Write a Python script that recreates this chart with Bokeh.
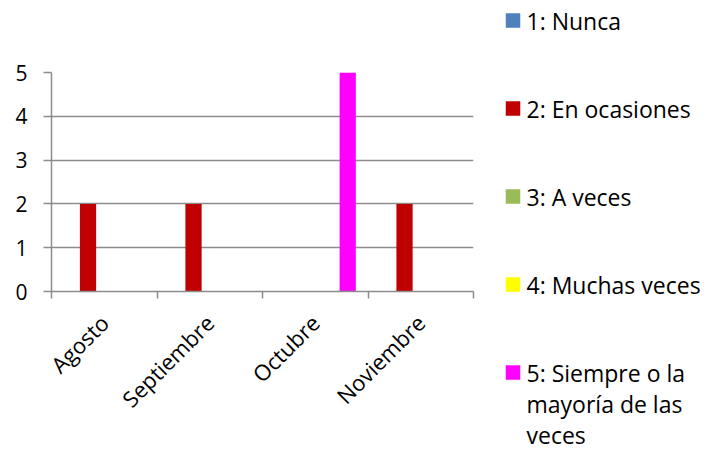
import math
from bokeh.plotting import figure
from bokeh.layouts import row
from bokeh.models import FixedTicker, ColumnDataSource, Range1d
from bokeh.embed import file_html
from bokeh.resources import INLINE

categories = ["Agosto", "Septiembre", "Octubre", "Noviembre"]
series_names = ["1: Nunca", "2: En ocasiones", "3: A veces", "4: Muchas veces",
                "5: Siempre o la\nmayoría de las\nveces"]
series_colors = ["#4F81BD", "#C00000", "#9BBB59", "#FFFF00", "#FF00FF"]
nunca = [0, 0, 0, 0]
en_ocasiones = [2, 2, 0, 2]
a_veces = [0, 0, 0, 0]
muchas_veces = [0, 0, 0, 0]
siempre = [0, 0, 5, 0]
series_values = [nunca, en_ocasiones, a_veces, muchas_veces, siempre]
y_ticks = [0, 1, 2, 3, 4, 5]

FONT = "Open Sans"
GRAY = "#8c8c8c"

n_series = len(series_values)
bar_w = 1.0 / (n_series + 1.5)  # Excel gap width 150%

# ---------------- chart ----------------
p = figure(width=478, height=449, x_range=(0, len(categories)), y_range=(0, 5),
           output_backend="svg", toolbar_location=None,
           min_border_left=51, min_border_right=5, min_border_top=72, min_border_bottom=158)
p.frame_align = False
p.outline_line_color = None
p.background_fill_color = "white"
p.border_fill_color = "white"

for j, (vals, col) in enumerate(zip(series_values, series_colors)):
    xs = [i + bar_w * (j + 1.25) for i in range(len(categories))]
    src = ColumnDataSource(dict(x=xs, top=vals))
    p.vbar(x="x", top="top", bottom=0, width=bar_w, source=src,
           fill_color=col, line_color=None)

# y axis
p.yaxis.ticker = FixedTicker(ticks=y_ticks)
p.yaxis.major_tick_out = 8
p.yaxis.major_tick_in = 0
p.yaxis.minor_tick_out = 0
p.yaxis.minor_tick_in = 0
p.yaxis.axis_line_color = GRAY
p.yaxis.axis_line_width = 1.5
p.yaxis.major_tick_line_color = GRAY
p.yaxis.major_tick_line_width = 1.5
p.yaxis.major_label_text_font = FONT
p.yaxis.major_label_text_font_size = "21px"
p.yaxis.major_label_text_color = "black"
p.yaxis.major_label_standoff = 16

# x axis
centers = [i + 0.5 for i in range(len(categories))]
bounds = [i for i in range(len(categories) + 1)]
p.xaxis.ticker = FixedTicker(ticks=centers, minor_ticks=bounds)
p.xaxis.major_label_overrides = {c: lab for c, lab in zip(centers, categories)}
p.xaxis.major_tick_out = 0
p.xaxis.major_tick_in = 0
p.xaxis.minor_tick_out = 7
p.xaxis.minor_tick_in = 0
p.xaxis.minor_tick_line_color = GRAY
p.xaxis.minor_tick_line_width = 1.5
p.xaxis.axis_line_color = GRAY
p.xaxis.axis_line_width = 1.5
p.xaxis.major_label_orientation = math.pi / 4
p.xaxis.major_label_text_font = FONT
p.xaxis.major_label_text_font_size = "22px"
p.xaxis.major_label_text_color = "black"
p.xaxis.major_label_standoff = 20

p.xgrid.visible = False
p.ygrid.ticker = FixedTicker(ticks=y_ticks)
p.ygrid.grid_line_color = GRAY
p.ygrid.grid_line_width = 1.5

# ---------------- legend panel ----------------
LW, LH = 244, 449
lf = figure(width=LW, height=LH, x_range=Range1d(0, LW), y_range=Range1d(LH, 0),
            output_backend="svg", toolbar_location=None,
            x_axis_type=None, y_axis_type=None,
            min_border_left=0, min_border_right=0, min_border_top=0, min_border_bottom=0)
lf.frame_align = False
lf.outline_line_color = None
lf.grid.visible = False
lf.background_fill_color = "white"
lf.border_fill_color = "white"

ITEM_TOP, ITEM_STEP, LINE_STEP = 20, 88, 31
SQ_X, TXT_X = 34.5, 48
sq_y = [ITEM_TOP + ITEM_STEP * j for j in range(n_series)]
lf.scatter(x=[SQ_X] * n_series, y=sq_y, marker="square", size=14.5,
           fill_color=series_colors, line_color=None)

tx, ty, tt = [], [], []
for j, name in enumerate(series_names):
    for k, line in enumerate(name.split("\n")):
        tx.append(TXT_X)
        ty.append(sq_y[j] + LINE_STEP * k)
        tt.append(line)
lf.text(x=tx, y=ty, text=tt, text_align="left", text_baseline="middle",
        text_font={"value": FONT}, text_font_size="23px", text_color="black")

layout = row(p, lf)
open("out.html", "w").write(file_html(layout, INLINE))
